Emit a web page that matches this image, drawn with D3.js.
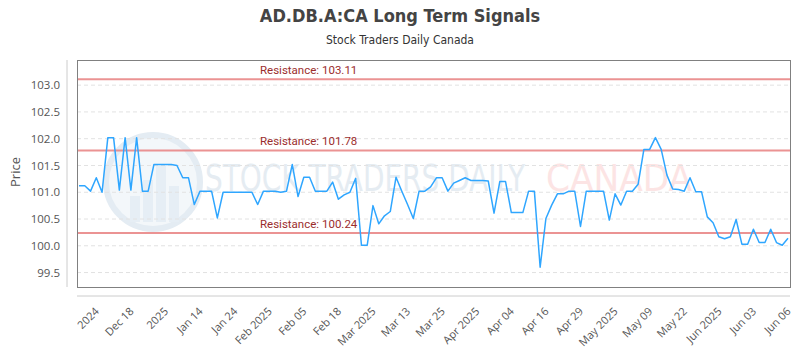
<!DOCTYPE html>
<html>
<head>
<meta charset="utf-8">
<script src="https://cdn.jsdelivr.net/npm/d3@7"></script>
<style>
  html, body { margin: 0; padding: 0; background: #fff; }
  svg { display: block; }
</style>
</head>
<body>
<svg id="chart" width="800" height="350"></svg>
<script>
// Closing prices, one per session
const prices = [
  101.12, 101.12, 101.02, 101.27, 101.00, 102.02, 102.02, 101.04, 102.02, 101.04,
  102.02, 101.02, 101.02, 101.52, 101.52, 101.52, 101.52, 101.50, 101.27, 101.27,
  100.77, 101.02, 101.02, 101.02, 100.52, 101.00, 101.00, 101.00, 101.00, 101.00,
  101.00, 100.77, 101.02, 101.02, 101.02, 101.00, 101.02, 101.52, 100.92, 101.28,
  101.28, 101.02, 101.02, 101.02, 101.19, 100.87, 100.95, 101.00, 101.26, 100.01,
  100.01, 100.75, 100.41, 100.56, 100.64, 101.28, 101.02, 100.77, 100.51, 101.02,
  101.02, 101.10, 101.27, 101.27, 101.02, 101.17, 101.22, 101.27, 101.22, 101.22,
  101.22, 101.21, 100.61, 101.20, 101.20, 100.62, 100.62, 100.62, 101.02, 101.02,
  99.60, 100.51, 100.76, 100.97, 100.97, 101.02, 101.02, 100.36, 101.02, 101.02,
  101.02, 101.02, 100.48, 100.97, 100.76, 101.02, 101.02, 101.15, 101.80, 101.80,
  102.02, 101.80, 101.32, 101.06, 101.05, 101.02, 101.27, 101.01, 101.01, 100.54,
  100.43, 100.17, 100.13, 100.17, 100.49, 100.03, 100.03, 100.31, 100.06, 100.06,
  100.31, 100.06, 100.01, 100.14
];

// Category labels shown along the time axis (every sixth session from the fourth)
const xTickLabels = [
  "2024", "Dec 18", "2025", "Jan 14", "Jan 24", "Feb 2025", "Feb 05", "Feb 18",
  "Mar 2025", "Mar 13", "Mar 25", "Apr 2025", "Apr 04", "Apr 16", "Apr 29",
  "May 2025", "May 09", "May 22", "Jun 2025", "Jun 03", "Jun 06"
];
const xTickStart = 3;
const xTickStep = 6;

const yTicks = [99.5, 100.0, 100.5, 101.0, 101.5, 102.0, 102.5, 103.0];
const yDomain = [99.23, 103.47];

const resistanceLevels = [103.11, 101.78, 100.24];

const svg = d3.select("#chart");

const plot = { left: 77, right: 790, top: 60, bottom: 287 };

const x = d3.scaleLinear()
  .domain([0, prices.length - 1])
  .range([79, 788]);

const y = d3.scaleLinear()
  .domain(yDomain)
  .range([plot.bottom, plot.top]);

const narrow = "'Liberation Sans Narrow', 'DejaVu Sans Condensed', sans-serif";

// Title block
svg.append("text")
  .attr("x", 400).attr("y", 22)
  .attr("text-anchor", "middle")
  .attr("font-family", narrow)
  .attr("font-weight", "bold")
  .attr("font-size", 18)
  .attr("fill", "#444")
  .text("AD.DB.A:CA Long Term Signals");

svg.append("text")
  .attr("x", 400).attr("y", 44)
  .attr("text-anchor", "middle")
  .attr("font-family", narrow)
  .attr("font-size", 12)
  .attr("fill", "#333")
  .text("Stock Traders Daily Canada");

// Watermark: logo badge and brand name
const wm = svg.append("g").attr("class", "watermark");
wm.append("circle").attr("cx", 153).attr("cy", 182).attr("r", 47)
  .attr("fill", "#f3f7fa").attr("stroke", "#e4ecf3").attr("stroke-width", 6);
const bars = [[130, 196], [143, 180], [156, 166], [169, 186]];
bars.forEach(([bx, by]) => {
  wm.append("rect").attr("x", bx).attr("y", by).attr("width", 10)
    .attr("height", 222 - by).attr("fill", "#e6eef5");
});
wm.append("g")
  .attr("transform", "translate(205,191) scale(1,1.12)")
  .append("text")
  .attr("font-family", narrow)
  .attr("font-size", 34)
  .attr("textLength", 320).attr("lengthAdjust", "spacingAndGlyphs")
  .attr("fill", "#e5ecf2")
  .text("STOCK TRADERS DAILY");
wm.append("g")
  .attr("transform", "translate(546,191) scale(1,1.12)")
  .append("text")
  .attr("font-family", narrow)
  .attr("font-size", 34)
  .attr("textLength", 146).attr("lengthAdjust", "spacingAndGlyphs")
  .attr("fill", "#fce4e4")
  .text("CANADA");

// Horizontal grid
svg.append("g")
  .selectAll("line")
  .data(yTicks)
  .join("line")
  .attr("x1", plot.left).attr("x2", plot.right)
  .attr("y1", d => y(d)).attr("y2", d => y(d))
  .attr("stroke", "#e2e2e2")
  .attr("stroke-dasharray", "4,3");

// Y axis
const yAxis = d3.axisLeft(y)
  .tickValues(yTicks)
  .tickFormat(d3.format(".1f"))
  .tickSize(0)
  .tickPadding(7);
const yAxisG = svg.append("g")
  .attr("transform", "translate(67,0)")
  .call(yAxis);
yAxisG.select(".domain").attr("stroke", "#ccc").attr("d", `M0,${plot.top}V${plot.bottom}`);
yAxisG.selectAll("text")
  .attr("font-family", "'Open Sans', sans-serif")
  .attr("font-size", 11.5)
  .attr("fill", "#555");

svg.append("text")
  .attr("transform", "translate(20,172) rotate(-90)")
  .attr("text-anchor", "middle")
  .attr("font-family", "'Open Sans', sans-serif")
  .attr("font-size", 13)
  .attr("fill", "#555")
  .text("Price");

// X axis
const tickIdx = xTickLabels.map((_, i) => xTickStart + i * xTickStep);
const xAxis = d3.axisBottom(x)
  .tickValues(tickIdx)
  .tickFormat((d, i) => xTickLabels[i])
  .tickSize(0)
  .tickPadding(0);
const xAxisG = svg.append("g")
  .attr("transform", "translate(0,296)")
  .call(xAxis);
xAxisG.select(".domain").attr("stroke", "#ccc").attr("d", `M${plot.left},0H${plot.right}`);
xAxisG.selectAll("text")
  .attr("font-family", "'Open Sans', sans-serif")
  .attr("font-size", 11)
  .attr("fill", "#555")
  .attr("text-anchor", "end")
  .attr("dy", null)
  .attr("y", null)
  .attr("transform", "translate(3,16) rotate(-45)");

// Plot frame
svg.append("rect")
  .attr("x", plot.left + 0.5).attr("y", plot.top + 0.5)
  .attr("width", plot.right - plot.left).attr("height", plot.bottom - plot.top)
  .attr("fill", "none")
  .attr("stroke", "#808080");

// Resistance levels
const res = svg.append("g");
res.selectAll("line")
  .data(resistanceLevels)
  .join("line")
  .attr("x1", plot.left + 1).attr("x2", plot.right)
  .attr("y1", d => y(d)).attr("y2", d => y(d))
  .attr("stroke", "#e88080")
  .attr("stroke-opacity", 0.85)
  .attr("stroke-width", 2);
res.selectAll("text")
  .data(resistanceLevels)
  .join("text")
  .attr("x", 260)
  .attr("y", d => y(d) - 5)
  .attr("font-family", "Roboto, sans-serif")
  .attr("font-size", 11.5)
  .attr("fill", "#9b2d2d")
  .text(d => `Resistance: ${d.toFixed(2)}`);

// Price line
const line = d3.line()
  .x((d, i) => x(i))
  .y(d => y(d));
svg.append("path")
  .datum(prices)
  .attr("d", line)
  .attr("fill", "none")
  .attr("stroke", "#2fa6ff")
  .attr("stroke-width", 1.5)
  .attr("stroke-linejoin", "round");
</script>
</body>
</html>
